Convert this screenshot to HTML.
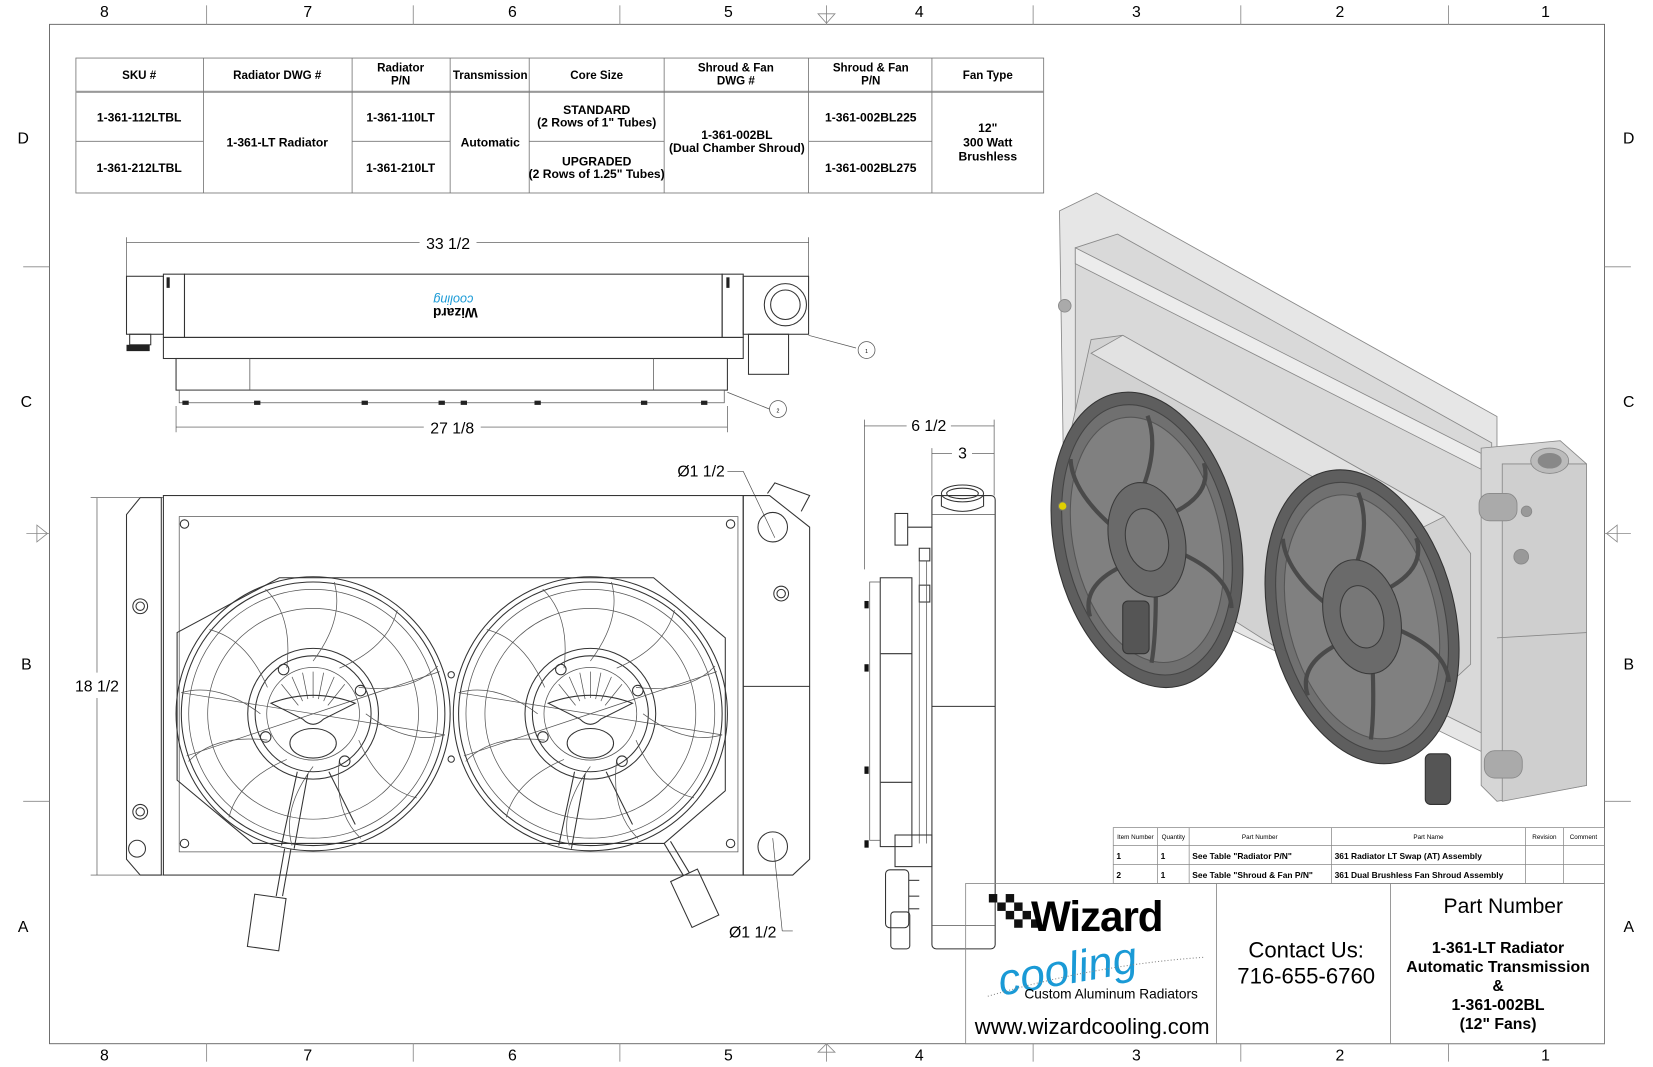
<!DOCTYPE html>
<html><head><meta charset="utf-8"><style>
html,body{margin:0;padding:0;background:#fff;width:1653px;height:1067px;overflow:hidden}
svg{display:block}
text{font-family:"Liberation Sans",sans-serif;fill:#000}
.tb{font-weight:bold;font-size:11.5px}
.th{font-weight:bold;font-size:11px}
.ln{fill:none;stroke:#333;stroke-width:1}
.lt{fill:none;stroke:#555;stroke-width:0.7}
.dm{stroke:#444;stroke-width:0.6;fill:none}
</style></head><body>
<svg width="1653" height="1067" viewBox="0 0 1568 1012" xmlns="http://www.w3.org/2000/svg">
<defs>
<g id="fan">
 <circle r="130" class="ln" stroke-width="1.4"/>
 <circle r="125" class="ln"/>
 <circle r="118" class="lt"/>
 <circle r="100" class="lt"/>
 <circle r="62" class="ln"/>
 <circle r="55" class="ln"/>
 <circle r="44" class="lt"/>
 <g class="lt">
  <path d="M0,-50 Q30,-90 20,-125"/><path d="M0,-50 Q30,-90 20,-125" transform="rotate(30)"/>
  <path d="M0,-50 Q30,-90 20,-125" transform="rotate(60)"/><path d="M0,-50 Q30,-90 20,-125" transform="rotate(90)"/>
  <path d="M0,-50 Q30,-90 20,-125" transform="rotate(120)"/><path d="M0,-50 Q30,-90 20,-125" transform="rotate(150)"/>
  <path d="M0,-50 Q30,-90 20,-125" transform="rotate(180)"/><path d="M0,-50 Q30,-90 20,-125" transform="rotate(210)"/>
  <path d="M0,-50 Q30,-90 20,-125" transform="rotate(240)"/><path d="M0,-50 Q30,-90 20,-125" transform="rotate(270)"/>
  <path d="M0,-50 Q30,-90 20,-125" transform="rotate(300)"/><path d="M0,-50 Q30,-90 20,-125" transform="rotate(330)"/>
  <line x1="-125" y1="-20" x2="125" y2="20"/><line x1="-120" y1="40" x2="120" y2="-40"/>
 </g>
 <g class="lt">
  <line x1="0" y1="-40" x2="0" y2="-15"/><line x1="10" y1="-39" x2="5" y2="-14"/><line x1="20" y1="-35" x2="10" y2="-12"/>
  <line x1="-10" y1="-39" x2="-5" y2="-14"/><line x1="-20" y1="-35" x2="-10" y2="-12"/><line x1="30" y1="-28" x2="14" y2="-8"/><line x1="-30" y1="-28" x2="-14" y2="-8"/>
 </g>
 <path d="M-40,-10 Q0,-25 40,-10 L10,5 Q0,15 -10,5 Z" class="ln" fill="#fff"/>
 <ellipse cx="0" cy="28" rx="22" ry="14" class="ln" fill="#fff"/>
 <path d="M-15,55 L-30,125 M-5,57 L-18,128 M15,55 L40,105" class="ln"/>
 <circle cx="-28" cy="-42" r="5" class="ln"/><circle cx="45" cy="-22" r="5" class="ln"/>
 <circle cx="-45" cy="22" r="5" class="ln"/><circle cx="30" cy="45" r="5" class="ln"/>
</g>
<g id="isofan">
 <ellipse rx="88" ry="142" fill="#5e5e5e" stroke="#333"/>
 <ellipse rx="78" ry="130" fill="#707070" stroke="#444"/>
 <ellipse rx="70" ry="118" fill="#808080" stroke="#555"/>
 <g stroke="#4a4a4a" stroke-width="4" fill="none">
  <path d="M0,-40 Q30,-80 25,-115"/><path d="M30,-20 Q70,-30 68,-60"/><path d="M30,20 Q70,50 65,80"/>
  <path d="M0,40 Q-10,90 -20,115"/><path d="M-30,20 Q-70,30 -68,60"/><path d="M-30,-20 Q-60,-60 -55,-90"/>
 </g>
 <ellipse rx="36" ry="55" fill="#6a6a6a" stroke="#3a3a3a"/>
 <ellipse rx="20" ry="30" fill="#777" stroke="#3a3a3a"/>
</g>
</defs>

<!-- Frame -->
<rect x="47" y="23" width="1475" height="967" fill="none" stroke="#555" stroke-width="0.8"/>
<g stroke="#888" stroke-width="0.8">
 <line x1="196" y1="5" x2="196" y2="23"/><line x1="392" y1="5" x2="392" y2="23"/><line x1="588" y1="5" x2="588" y2="23"/>
 <line x1="980" y1="5" x2="980" y2="23"/><line x1="1177" y1="5" x2="1177" y2="23"/><line x1="1374" y1="5" x2="1374" y2="23"/>
 <line x1="196" y1="990" x2="196" y2="1007"/><line x1="392" y1="990" x2="392" y2="1007"/><line x1="588" y1="990" x2="588" y2="1007"/>
 <line x1="980" y1="990" x2="980" y2="1007"/><line x1="1177" y1="990" x2="1177" y2="1007"/><line x1="1374" y1="990" x2="1374" y2="1007"/>
 <line x1="22" y1="253" x2="47" y2="253"/><line x1="22" y1="760" x2="47" y2="760"/>
 <line x1="1522" y1="253" x2="1547" y2="253"/><line x1="1522" y1="760" x2="1547" y2="760"/>
 <line x1="784" y1="5" x2="784" y2="23"/><line x1="784" y1="990" x2="784" y2="1007"/>
 <line x1="25" y1="506" x2="47" y2="506"/><line x1="1522" y1="506" x2="1547" y2="506"/>
</g>
<g fill="none" stroke="#888" stroke-width="0.8">
 <path d="M776,13 L792,13 L784,22 Z"/><path d="M776,998 L792,998 L784,990 Z"/>
 <path d="M35,498 L35,514 L45,506 Z"/><path d="M1534,498 L1534,514 L1524,506 Z"/>
</g>
<g font-size="15" text-anchor="middle">
 <text x="99" y="16">8</text><text x="292" y="16">7</text><text x="486" y="16">6</text><text x="691" y="16">5</text>
 <text x="872" y="16">4</text><text x="1078" y="16">3</text><text x="1271" y="16">2</text><text x="1466" y="16">1</text>
 <text x="99" y="1006">8</text><text x="292" y="1006">7</text><text x="486" y="1006">6</text><text x="691" y="1006">5</text>
 <text x="872" y="1006">4</text><text x="1078" y="1006">3</text><text x="1271" y="1006">2</text><text x="1466" y="1006">1</text>
 <text x="22" y="136">D</text><text x="25" y="386">C</text><text x="25" y="635">B</text><text x="22" y="884">A</text>
 <text x="1545" y="136">D</text><text x="1545" y="386">C</text><text x="1545" y="635">B</text><text x="1545" y="884">A</text>
</g>

<!-- Spec table -->
<g stroke="#777" stroke-width="0.8" fill="none">
 <rect x="72" y="55" width="918" height="128"/>
 <line x1="72" y1="87" x2="990" y2="87" stroke="#999" stroke-width="2"/>
 <line x1="193" y1="55" x2="193" y2="183"/><line x1="334" y1="55" x2="334" y2="183"/><line x1="427" y1="55" x2="427" y2="183"/>
 <line x1="502" y1="55" x2="502" y2="183"/><line x1="630" y1="55" x2="630" y2="183"/><line x1="767" y1="55" x2="767" y2="183"/>
 <line x1="884" y1="55" x2="884" y2="183"/>
 <line x1="72" y1="134" x2="193" y2="134"/><line x1="334" y1="134" x2="427" y2="134"/><line x1="502" y1="134" x2="630" y2="134"/><line x1="767" y1="134" x2="884" y2="134"/>
</g>
<g text-anchor="middle" class="th">
 <text x="132" y="75" class="th">SKU #</text>
 <text x="263" y="75" class="th">Radiator DWG #</text>
 <text x="380" y="68" class="th">Radiator</text><text x="380" y="80" class="th">P/N</text>
 <text x="465" y="75" class="th">Transmission</text>
 <text x="566" y="75" class="th">Core Size</text>
 <text x="698" y="68" class="th">Shroud &amp; Fan</text><text x="698" y="80" class="th">DWG #</text>
 <text x="826" y="68" class="th">Shroud &amp; Fan</text><text x="826" y="80" class="th">P/N</text>
 <text x="937" y="75" class="th">Fan Type</text>
 <text x="132" y="115" class="tb">1-361-112LTBL</text>
 <text x="132" y="163" class="tb">1-361-212LTBL</text>
 <text x="263" y="139" class="tb">1-361-LT Radiator</text>
 <text x="380" y="115" class="tb">1-361-110LT</text>
 <text x="380" y="163" class="tb">1-361-210LT</text>
 <text x="465" y="139" class="tb">Automatic</text>
 <text x="566" y="108" class="tb">STANDARD</text><text x="566" y="120" class="tb">(2 Rows of 1" Tubes)</text>
 <text x="566" y="157" class="tb">UPGRADED</text><text x="566" y="169" class="tb">(2 Rows of 1.25" Tubes)</text>
 <text x="699" y="132" class="tb">1-361-002BL</text><text x="699" y="144" class="tb">(Dual Chamber Shroud)</text>
 <text x="826" y="115" class="tb">1-361-002BL225</text>
 <text x="826" y="163" class="tb">1-361-002BL275</text>
 <text x="937" y="125" class="tb">12"</text><text x="937" y="139" class="tb">300 Watt</text><text x="937" y="152" class="tb">Brushless</text>
</g>

<!-- Top view -->
<g class="dm">
 <line x1="120" y1="230" x2="398" y2="230"/><line x1="452" y1="230" x2="767" y2="230"/>
 <line x1="120" y1="225" x2="120" y2="262"/><line x1="767" y1="225" x2="767" y2="262"/>
 <line x1="167" y1="405" x2="402" y2="405"/><line x1="456" y1="405" x2="690" y2="405"/>
 <line x1="167" y1="385" x2="167" y2="410"/><line x1="690" y1="385" x2="690" y2="410"/>
</g>
<text x="425" y="236" font-size="15" text-anchor="middle">33 1/2</text>
<text x="429" y="411" font-size="15" text-anchor="middle">27 1/8</text>
<g class="ln">
 <rect x="120" y="262" width="35" height="55"/>
 <rect x="155" y="260" width="20" height="60"/>
 <rect x="175" y="260" width="510" height="60"/>
 <rect x="685" y="260" width="20" height="60"/>
 <rect x="705" y="262" width="62" height="55"/>
 <rect x="155" y="320" width="550" height="20"/>
 <rect x="167" y="340" width="523" height="30"/>
 <line x1="237" y1="340" x2="237" y2="370" class="lt"/><line x1="620" y1="340" x2="620" y2="370" class="lt"/>
 <rect x="170" y="370" width="517" height="12" class="lt"/>
 <rect x="710" y="317" width="38" height="38"/>
 <circle cx="745" cy="289" r="20"/><circle cx="745" cy="289" r="14"/>
 <rect x="123" y="317" width="20" height="10"/>
</g>
<g fill="#222">
 <rect x="120" y="327" width="22" height="6"/>
 <rect x="173" y="380" width="6" height="4"/><rect x="241" y="380" width="6" height="4"/><rect x="343" y="380" width="6" height="4"/>
 <rect x="416" y="380" width="6" height="4"/><rect x="437" y="380" width="6" height="4"/><rect x="507" y="380" width="6" height="4"/>
 <rect x="608" y="380" width="6" height="4"/><rect x="665" y="380" width="6" height="4"/>
 <rect x="158" y="263" width="3" height="10"/><rect x="689" y="263" width="3" height="10"/>
</g>
<text x="432" y="302" font-size="13" font-weight="bold" text-anchor="middle" transform="rotate(180 432 297)">Wizard</text>
<text x="430" y="288" font-size="12" font-style="italic" text-anchor="middle" transform="rotate(180 430 284)" style="fill:#1a9ad6">cooling</text>
<g class="lt"><path d="M767,318 L812,330"/><circle cx="822" cy="332" r="8"/><path d="M690,372 L730,388"/><circle cx="738" cy="388" r="8"/></g>
<text x="822" y="335" font-size="5" text-anchor="middle">1</text><text x="738" y="391" font-size="5" text-anchor="middle">2</text>

<!-- Front view -->
<g class="dm">
 <line x1="92" y1="472" x2="92" y2="638"/><line x1="92" y1="662" x2="92" y2="830"/>
 <line x1="86" y1="472" x2="155" y2="472"/><line x1="86" y1="830" x2="155" y2="830"/>
 <line x1="690" y1="447" x2="705" y2="447"/><line x1="705" y1="447" x2="735" y2="510"/>
 <line x1="742" y1="883" x2="752" y2="883"/><line x1="742" y1="883" x2="733" y2="795"/>
</g>
<text x="92" y="656" font-size="15" text-anchor="middle">18 1/2</text>
<text x="665" y="452" font-size="15" text-anchor="middle">Ø1 1/2</text>
<text x="714" y="889" font-size="15" text-anchor="middle">Ø1 1/2</text>
<g class="ln">
 <path d="M133,472 L153,472 L153,830 L133,830 L120,815 L120,488 Z"/>
 <rect x="155" y="470" width="550" height="360"/>
 <rect x="170" y="490" width="530" height="318" class="lt"/>
 <path d="M705,470 L730,470 L768,500 L768,815 L752,830 L705,830 Z"/>
 <line x1="705" y1="651" x2="768" y2="651"/>
 <circle cx="733" cy="500" r="14"/><circle cx="733" cy="803" r="14"/>
 <circle cx="741" cy="563" r="7"/><circle cx="741" cy="563" r="4"/>
 <circle cx="133" cy="575" r="7"/><circle cx="133" cy="575" r="4"/>
 <circle cx="133" cy="770" r="7"/><circle cx="133" cy="770" r="4"/>
 <circle cx="130" cy="805" r="8"/>
 <path d="M728,468 L735,458 L768,470 L760,485" />
 <polygon points="265,548 620,548 688,605 688,750 630,800 240,800 168,740 168,600"/>
 <circle cx="175" cy="497" r="4"/><circle cx="693" cy="497" r="4"/><circle cx="175" cy="800" r="4"/><circle cx="693" cy="800" r="4"/>
 <circle cx="428" cy="640" r="3"/><circle cx="428" cy="720" r="3"/>
 <path d="M270,805 L262,850 M276,805 L268,850"/>
 <rect x="238" y="850" width="30" height="50" transform="rotate(8 253 875)"/>
 <path d="M630,800 L648,830 M636,798 L654,828"/>
 <rect x="645" y="828" width="28" height="48" transform="rotate(-25 659 852)"/>
</g>
<use href="#fan" x="297" y="677"/>
<use href="#fan" x="560" y="677"/>

<!-- Side view -->
<g class="dm">
 <line x1="820" y1="404" x2="860" y2="404"/><line x1="902" y1="404" x2="943" y2="404"/>
 <line x1="820" y1="398" x2="820" y2="540"/><line x1="943" y1="398" x2="943" y2="470"/>
 <line x1="884" y1="430" x2="903" y2="430"/><line x1="922" y1="430" x2="943" y2="430"/>
 <line x1="884" y1="425" x2="884" y2="470"/>
</g>
<text x="881" y="409" font-size="15" text-anchor="middle">6 1/2</text>
<text x="913" y="435" font-size="15" text-anchor="middle">3</text>
<g class="ln">
 <rect x="884" y="470" width="60" height="430" rx="4"/>
 <line x1="884" y1="670" x2="944" y2="670"/>
 <line x1="884" y1="488" x2="944" y2="488" class="lt"/><line x1="884" y1="878" x2="944" y2="878" class="lt"/>
 <ellipse cx="913" cy="468" rx="20" ry="8"/><ellipse cx="913" cy="468" rx="15" ry="5"/>
 <path d="M893,470 L893,480 Q913,490 933,480 L933,470"/>
 <rect x="849" y="487" width="12" height="30"/>
 <rect x="872" y="520" width="10" height="12"/><rect x="872" y="555" width="10" height="16"/>
 <line x1="861" y1="500" x2="884" y2="500"/>
 <line x1="872" y1="532" x2="872" y2="800" class="lt"/><line x1="879" y1="532" x2="879" y2="800" class="lt"/>
 <rect x="835" y="548" width="30" height="255"/>
 <line x1="835" y1="620" x2="865" y2="620"/><line x1="835" y1="742" x2="865" y2="742"/>
 <rect x="825" y="552" width="10" height="245" class="lt"/>
 <rect x="849" y="792" width="35" height="30"/>
 <rect x="840" y="825" width="22" height="55" rx="4"/>
 <rect x="845" y="865" width="18" height="35" rx="3"/>
 <line x1="862" y1="835" x2="872" y2="835"/><line x1="862" y1="850" x2="872" y2="850"/><line x1="862" y1="862" x2="872" y2="862"/>
</g>
<g fill="#111"><rect x="820" y="570" width="4" height="7"/><rect x="820" y="630" width="4" height="7"/><rect x="820" y="727" width="4" height="7"/><rect x="820" y="797" width="4" height="7"/></g>

<!-- Iso view -->
<g stroke="#888" stroke-width="0.8">
 <polygon points="1005,200 1040,183 1420,395 1420,720 1010,520" fill="#e6e6e6"/>
 <polygon points="1020,235 1060,222 1415,420 1415,700 1020,505" fill="#d9d9d9"/>
 <polygon points="1020,235 1405,430 1405,445 1020,250" fill="#ececec"/>
 <polygon points="1035,322 1065,318 1370,490 1395,525 1395,630 1330,690 1000,480" fill="#d2d2d2"/>
 <polygon points="1065,318 1370,490 1340,505 1035,335" fill="#e2e2e2"/>
 <polygon points="1405,425 1480,418 1505,440 1505,745 1420,760 1405,745" fill="#d6d6d6"/>
 <polygon points="1425,440 1505,440 1505,745 1425,760" fill="#cfcfcf"/>
 <line x1="1420" y1="605" x2="1505" y2="600"/>
 <ellipse cx="1470" cy="437" rx="18" ry="12" fill="#bbb"/><ellipse cx="1470" cy="437" rx="11" ry="7" fill="#888"/>
 <rect x="1403" y="468" width="36" height="26" rx="10" fill="#aaa"/>
 <rect x="1408" y="712" width="36" height="26" rx="10" fill="#aaa"/>
 <circle cx="1443" cy="528" r="7" fill="#999"/><circle cx="1448" cy="485" r="5" fill="#999"/>
 <circle cx="1010" cy="290" r="6" fill="#aaa"/>
</g>
<use href="#isofan" transform="translate(1088,512) rotate(-12)"/>
<use href="#isofan" transform="translate(1292,585) rotate(-14)"/>
<g fill="#555" stroke="#333"><rect x="1065" y="570" width="25" height="50" rx="5"/><rect x="1352" y="715" width="24" height="48" rx="5"/></g>
<circle cx="1008" cy="480" r="4" fill="#e0d000" stroke="#776"/>

<!-- Parts list -->
<g stroke="#888" stroke-width="0.7" fill="none">
 <rect x="1056" y="785" width="466" height="53"/>
 <line x1="1056" y1="802" x2="1522" y2="802"/><line x1="1056" y1="820" x2="1522" y2="820"/>
 <line x1="1098" y1="785" x2="1098" y2="838"/><line x1="1128" y1="785" x2="1128" y2="838"/><line x1="1263" y1="785" x2="1263" y2="838"/>
 <line x1="1447" y1="785" x2="1447" y2="838"/><line x1="1483" y1="785" x2="1483" y2="838"/>
</g>
<g font-size="6" fill="#444" text-anchor="middle">
 <text x="1077" y="796">Item Number</text><text x="1113" y="796">Quantity</text><text x="1195" y="796">Part Number</text>
 <text x="1355" y="796">Part Name</text><text x="1465" y="796">Revision</text><text x="1502" y="796">Comment</text>
</g>
<g font-size="8" font-weight="bold">
 <text x="1059" y="815">1</text><text x="1101" y="815">1</text><text x="1131" y="815">See Table "Radiator P/N"</text><text x="1266" y="815">361 Radiator LT Swap (AT) Assembly</text>
 <text x="1059" y="833">2</text><text x="1101" y="833">1</text><text x="1131" y="833">See Table "Shroud &amp; Fan P/N"</text><text x="1266" y="833">361 Dual Brushless Fan Shroud Assembly</text>
</g>

<!-- Title block -->
<g stroke="#888" stroke-width="0.8" fill="none">
 <rect x="916" y="838" width="606" height="152"/>
 <line x1="1154" y1="838" x2="1154" y2="990"/><line x1="1319" y1="838" x2="1319" y2="990"/>
</g>
<g>
 <g fill="#111">
  <rect x="938" y="848" width="8" height="8"/><rect x="954" y="848" width="8" height="8"/><rect x="946" y="856" width="8" height="8"/>
  <rect x="962" y="856" width="8" height="8"/><rect x="954" y="864" width="8" height="8"/><rect x="970" y="864" width="8" height="8"/>
  <rect x="962" y="872" width="8" height="8"/><rect x="978" y="872" width="8" height="8"/>
 </g>
 <text x="978" y="883" font-size="40" font-weight="bold" fill="#111" style="letter-spacing:-1px">Wizard</text>
 <text x="945" y="930" font-size="42" font-style="italic" font-family="Liberation Serif" style="fill:#1a9ad6" transform="rotate(-10 1030 912)">cooling</text>
 <path d="M937,945 Q1040,915 1142,908" stroke="#888" stroke-width="1" stroke-dasharray="1 2" fill="none"/>
 <text x="1054" y="947" font-size="13" text-anchor="middle">Custom Aluminum Radiators</text>
 <text x="1036" y="981" font-size="21" text-anchor="middle">www.wizardcooling.com</text>
 <text x="1239" y="908" font-size="21" text-anchor="middle">Contact Us:</text>
 <text x="1239" y="933" font-size="21" text-anchor="middle">716-655-6760</text>
 <text x="1426" y="866" font-size="20" text-anchor="middle">Part Number</text>
 <g font-size="15" font-weight="bold" text-anchor="middle">
  <text x="1421" y="904">1-361-LT Radiator</text><text x="1421" y="922">Automatic Transmission</text>
  <text x="1421" y="940">&amp;</text><text x="1421" y="958">1-361-002BL</text><text x="1421" y="976">(12" Fans)</text>
 </g>
</g>
</svg>
</body></html>
